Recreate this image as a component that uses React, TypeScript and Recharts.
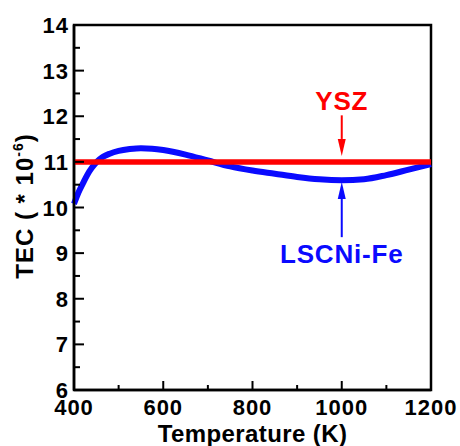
import { Line, LineChart, ReferenceArea, ReferenceLine, XAxis, YAxis } from "recharts";

// LSCNi-Fe thermal expansion coefficient vs temperature
const temperatureK = [400, 410, 420, 430, 440, 450, 465, 480, 500, 525, 550, 575, 600, 650, 700, 750, 800, 850, 900, 950, 1000, 1050, 1100, 1150, 1200];
const tecLscniFe = [10.08, 10.33, 10.53, 10.72, 10.87, 10.99, 11.11, 11.18, 11.24, 11.28, 11.3, 11.29, 11.26, 11.16, 11.03, 10.9, 10.81, 10.74, 10.67, 10.62, 10.6, 10.62, 10.71, 10.83, 10.95];

// YSZ reference value
const yszTemps = [400, 1200];
const yszTec = [11, 11];

const xTicks = [400, 500, 600, 700, 800, 900, 1000, 1100, 1200];
const yTicks = [6, 6.5, 7, 7.5, 8, 8.5, 9, 9.5, 10, 10.5, 11, 11.5, 12, 12.5, 13, 13.5, 14];

const FONT = "Arial, 'Liberation Sans', sans-serif";

const curveData = temperatureK.map((t, i) => ({ t, tec: tecLscniFe[i] }));
const yszData = yszTemps.map((t, i) => ({ t, tec: yszTec[i] }));

function YTick({ x, y, payload }: any) {
  const major = payload.value % 1 === 0;
  return (
    <g>
      <line x1={x} x2={x + (major ? 10 : 6)} y1={y} y2={y} stroke="#000" strokeWidth={2} />
      {major && (
        <text x={x - 5} y={y + 8} textAnchor="end" fontFamily={FONT} fontWeight="bold" fontSize={22} letterSpacing={1} fill="#000">
          {payload.value}
        </text>
      )}
    </g>
  );
}

function XTick({ x, y, payload }: any) {
  const major = payload.value % 200 === 0;
  return (
    <g>
      <line x1={x} x2={x} y1={y} y2={y - (major ? 9 : 5)} stroke="#000" strokeWidth={2} />
      {major && (
        <text x={x} y={y + 25} textAnchor="middle" fontFamily={FONT} fontWeight="bold" fontSize={22} letterSpacing={1} fill="#000">
          {payload.value}
        </text>
      )}
    </g>
  );
}

// arrow from (x1,y1) to (x2,y2) with a filled head at the second point, label next to the tail
function arrowShape(color: string, text: string) {
  return (p: any) => {
    const { x1, y1, x2, y2 } = p;
    const dir = y2 > y1 ? 1 : -1;
    const head = 17;
    const ty = dir > 0 ? y1 - 5 : y1 + 26;
    return (
      <g>
        <line x1={x1} y1={y1} x2={x2} y2={y2 - dir * head} stroke={color} strokeWidth={2} />
        <polygon points={`${x2},${y2} ${x2 - 4},${y2 - dir * head} ${x2 + 4},${y2 - dir * head}`} fill={color} />
        <text x={x2} y={ty} textAnchor="middle" fontFamily={FONT} fontWeight="bold" fontSize={26} letterSpacing={0.8} fill={color}>
          {text}
        </text>
      </g>
    );
  };
}

export default function App() {
  return (
    <div style={{ position: "fixed", top: 0, left: 0, width: 460, height: 446, background: "#fff" }}>
      <LineChart width={460} height={446} margin={{ top: 25, right: 29, bottom: 0, left: 0 }}>
        <XAxis
          dataKey="t"
          type="number"
          domain={[400, 1200]}
          ticks={xTicks}
          interval={0}
          height={56}
          tickSize={0}
          tickMargin={0}
          tickLine={false}
          tick={<XTick />}
          axisLine={{ stroke: "#000", strokeWidth: 2.5 }}
          allowDuplicatedCategory={false}
          label={{
            content: ({ viewBox }: any) => (
              <text
                x={viewBox.x + viewBox.width / 2}
                y={viewBox.y + 52}
                textAnchor="middle"
                fontFamily={FONT}
                fontWeight="bold"
                fontSize={24}
                letterSpacing={0.4}
                fill="#000"
              >
                Temperature (K)
              </text>
            ),
          }}
        />
        <YAxis
          type="number"
          domain={[6, 14]}
          ticks={yTicks}
          interval={0}
          width={74}
          tickSize={0}
          tickMargin={0}
          tickLine={false}
          tick={<YTick />}
          axisLine={{ stroke: "#000", strokeWidth: 2.5 }}
          label={{
            content: () => {
              const cx = 25;
              const cy = 206;
              return (
                <text
                  x={cx}
                  y={cy}
                  transform={`rotate(-90 ${cx} ${cy})`}
                  dy={8}
                  textAnchor="middle"
                  fontFamily={FONT}
                  fontWeight="bold"
                  fontSize={24}
                  letterSpacing={1}
                  fill="#000"
                >
                  TEC ( * 10
                  <tspan fontSize={14} dy={-10}>-6</tspan>
                  <tspan dy={10}>)</tspan>
                </text>
              );
            },
          }}
        />
        <ReferenceArea x1={400} x2={1200} y1={6} y2={14} fill="none" stroke="#000" strokeWidth={2.5} />
        <Line
          data={curveData}
          dataKey="tec"
          type="monotone"
          stroke="#0a0aff"
          strokeWidth={6}
          dot={false}
          isAnimationActive={false}
        />
        <Line
          data={yszData}
          dataKey="tec"
          type="linear"
          stroke="#ff0000"
          strokeWidth={5.5}
          dot={false}
          isAnimationActive={false}
        />
        <ReferenceLine
          segment={[{ x: 1000, y: 12.02 }, { x: 1000, y: 11.13 }]}
          shape={arrowShape("#ff0000", "YSZ")}
        />
        <ReferenceLine
          segment={[{ x: 1000, y: 9.35 }, { x: 1000, y: 10.56 }]}
          shape={arrowShape("#0a0aff", "LSCNi-Fe")}
        />
      </LineChart>
    </div>
  );
}
